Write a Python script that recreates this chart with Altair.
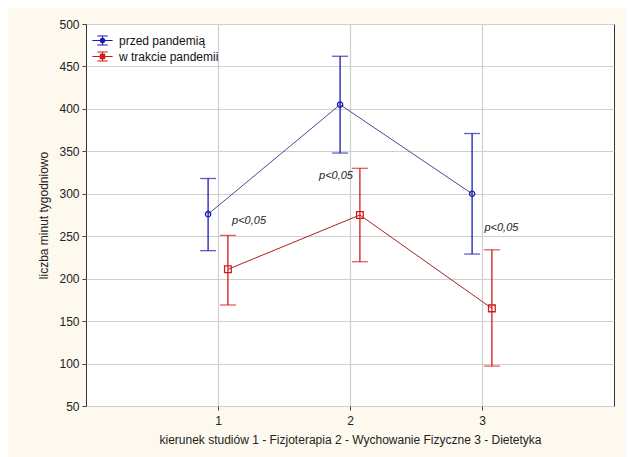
import altair as alt
import pandas as pd

# ---- data ----
categories = [1, 2, 3]
series_names = ["przed pandemią", "w trakcie pandemii"]
before_mean = [276, 405, 300]
before_low = [233, 348, 229]
before_high = [318, 462, 371]
during_mean = [211, 275, 165]
during_low = [169, 220, 97]
during_high = [251, 330, 234]

annot_text = ["p<0,05", "p<0,05", "p<0,05"]
annot_x = [1.235, 1.894, 3.147]
annot_y = [268, 321, 260]

y_ticks = [50, 100, 150, 200, 250, 300, 350, 400, 450, 500]
x_ticks = [1, 2, 3]

offsets = {series_names[0]: -0.075, series_names[1]: 0.075}

rows = []
for s, m, lo, hi in [(series_names[0], before_mean, before_low, before_high),
                     (series_names[1], during_mean, during_low, during_high)]:
    for c, mv, l, h in zip(categories, m, lo, hi):
        rows.append({"series": s, "cat": c, "xpos": c + offsets[s],
                     "mean": mv, "low": l, "high": h})
df = pd.DataFrame(rows)
ann = pd.DataFrame({"t": annot_text, "x": annot_x, "y": annot_y})

BLUE_BAR = "#1a1ab8"
RED_BAR = "#d01c1c"
BLUE_LINE = "#4a4a96"
RED_LINE = "#aa2020"

xscale = alt.Scale(domain=[0, 4], nice=False, zero=False)
yscale = alt.Scale(domain=[50, 500], nice=False, zero=False)

xaxis = alt.Axis(values=x_ticks, title="kierunek studiów 1 - Fizjoterapia 2 - Wychowanie Fizyczne 3 - Dietetyka",
                 format="d", grid=True, gridColor="#cfcfcf", gridWidth=1.2,
                 labelFontSize=12, titleFontSize=12, titleFontWeight="normal",
                 labelColor="#222", titleColor="#222", tickColor="#444", tickSize=4,
                 domain=False, labelPadding=5, titlePadding=8,
                 labelFont="Liberation Sans", titleFont="Liberation Sans")
yaxis = alt.Axis(values=y_ticks, title="liczba minut tygodniowo",
                 grid=True, gridColor="#cfcfcf", gridWidth=1.2,
                 labelFontSize=12, titleFontSize=12, titleFontWeight="normal",
                 labelColor="#222", titleColor="#222", tickColor="#444", tickSize=4,
                 domain=False, labelPadding=3, titlePadding=8,
                 labelFont="Liberation Sans", titleFont="Liberation Sans")

line_scale = alt.Scale(domain=series_names, range=[BLUE_LINE, RED_LINE])
bar_color_scale = alt.Scale(domain=series_names, range=[BLUE_BAR, RED_BAR])

legend_path_circle = ("M-1.35,0H1.35M0,-0.6V0.6M-0.7,-0.6H0.7M-0.7,0.6H0.7"
                      "M0.28,0A0.28,0.28 0 1,1 -0.28,0A0.28,0.28 0 1,1 0.28,0")
legend_path_square = ("M-1.35,0H1.35M0,-0.6V0.6M-0.7,-0.6H0.7M-0.7,0.6H0.7"
                      "M-0.28,-0.28H0.28V0.28H-0.28Z")

legend = alt.Legend(
    title=None, orient="none", legendX=8, legendY=8,
    symbolSize=225, labelFontSize=12, labelColor="#111", labelFont="Liberation Sans",
    rowPadding=0, padding=0, labelOffset=8, symbolStrokeWidth=1.2,
    symbolFillColor="transparent", symbolOpacity=1,
)

color_enc = alt.Color("series:N", scale=bar_color_scale, legend=legend)

base = alt.Chart(df)

lines = base.mark_line(strokeWidth=1).encode(
    x=alt.X("xpos:Q", scale=xscale, axis=xaxis),
    y=alt.Y("mean:Q", scale=yscale, axis=yaxis),
    stroke=alt.Stroke("series:N", scale=line_scale, legend=None),
    detail="series:N",
)

bars = base.mark_rule(strokeWidth=1.3).encode(
    x="xpos:Q",
    y="low:Q",
    y2="high:Q",
    color=color_enc,
)

cap_lo = base.mark_tick(orient="horizontal", size=16, thickness=1.3).encode(
    x="xpos:Q", y="low:Q", color=color_enc,
)
cap_hi = base.mark_tick(orient="horizontal", size=16, thickness=1.3).encode(
    x="xpos:Q", y="high:Q", color=color_enc,
)

pts_blue = base.transform_filter(alt.datum.series == series_names[0]).mark_point(
    shape="circle", filled=False, strokeWidth=1.3, size=28, opacity=1).encode(
    x="xpos:Q", y="mean:Q", color=color_enc,
)
pts_red = base.transform_filter(alt.datum.series == series_names[1]).mark_point(
    shape="square", filled=False, strokeWidth=1.3, size=45, opacity=1).encode(
    x="xpos:Q", y="mean:Q", color=color_enc,
)

# layer whose only job is to carry the legend shapes (no rows drawn)
legend_layer = base.transform_filter("datum.cat < 0").mark_point(
    filled=False, strokeWidth=1.2, size=225, opacity=1).encode(
    x="xpos:Q", y="mean:Q",
    color=color_enc,
    shape=alt.Shape("series:N", scale=alt.Scale(domain=series_names,
                                                range=[legend_path_circle, legend_path_square]),
                    legend=legend),
)

texts = alt.Chart(ann).mark_text(fontStyle="italic", fontSize=11, color="#222",
                                 font="Liberation Sans").encode(
    x="x:Q", y="y:Q", text="t:N")

chart = alt.layer(legend_layer, lines, bars, cap_lo, cap_hi, pts_blue, pts_red, texts).properties(
    width=528, height=382,
    autosize=alt.AutoSizeParams(type="none"),
    padding={"left": 78, "top": 16, "right": 12, "bottom": 51},
    background="#fdf9ee",
).configure_view(stroke="#333", strokeWidth=1, fill="white")

chart.save("out.html", embed_options={"renderer": "svg", "actions": False})
